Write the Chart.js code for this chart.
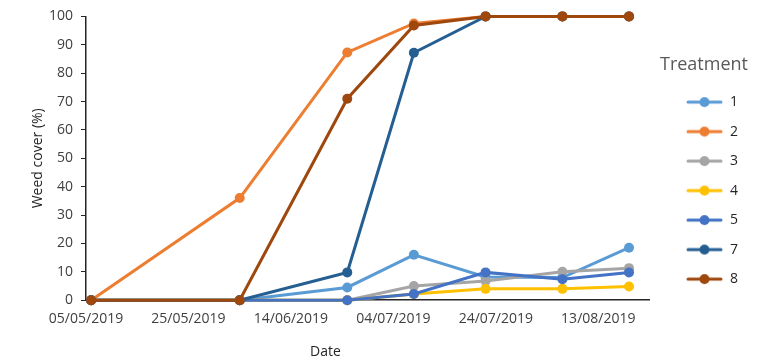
<!DOCTYPE html>
<html>
<head>
<meta charset="utf-8">
<script src="https://cdn.jsdelivr.net/npm/chart.js@4.4.1/dist/chart.umd.min.js"></script>
<style>
  html, body { margin: 0; padding: 0; background: #fff; }
  #wrap { width: 768px; height: 360px; }
</style>
</head>
<body>
<div id="wrap"><canvas id="chart"></canvas></div>
<script>
// sampling dates and weed cover (%) per treatment
const dates = ['06/05/2019', '04/06/2019', '25/06/2019', '08/07/2019', '22/07/2019', '06/08/2019', '19/08/2019']
const treatments = ['1', '2', '3', '4', '5', '7', '8']
const t1 = [0, 0, 4.5, 16, 8.2, 8, 18.5]
const t2 = [0, 36, 87.3, 97.5, 100, 100, 100]
const t3 = [0, 0, 0, 5, 6.8, 10, 11.3]
const t4 = [0, 0, 0, 2.2, 4, 4, 4.8]
const t5 = [0, 0, 0, 2.2, 9.8, 7.4, 9.8]
const t7 = [0, 0, 9.8, 87.2, 100, 100, 100]
const t8 = [0, 0, 71, 96.8, 100, 100, 100]
const colours = ['#5B9BD5', '#ED7D31', '#A5A5A5', '#FFC000', '#4472C4', '#255E91', '#9E480E']
const tickDates = ['05/05/2019', '25/05/2019', '14/06/2019', '04/07/2019', '24/07/2019', '13/08/2019']
const axisEnd = '23/08/2019'

const DAY = 864e5
const origin = Date.UTC(2019, 4, 5)
const pad = n => String(n).padStart(2, '0')
function toDay (s) {
  const [d, m, y] = s.split('/').map(Number)
  return Math.round((Date.UTC(y, m - 1, d) - origin) / DAY)
}
function fromDay (n) {
  const dt = new Date(origin + n * DAY)
  return pad(dt.getUTCDate()) + '/' + pad(dt.getUTCMonth() + 1) + '/' + dt.getUTCFullYear()
}

// line + marker swatch for the legend
function swatch (colour) {
  const c = document.createElement('canvas')
  c.width = 58
  c.height = 12
  const g = c.getContext('2d')
  g.strokeStyle = colour
  g.lineWidth = 3
  g.lineCap = 'round'
  g.beginPath()
  g.moveTo(23, 6)
  g.lineTo(56, 6)
  g.stroke()
  g.fillStyle = colour
  g.beginPath()
  g.arc(39.5, 6, 5, 0, Math.PI * 2)
  g.fill()
  return c
}

Chart.defaults.font.family = '"Open Sans", sans-serif'

const series = [t1, t2, t3, t4, t5, t7, t8]
const datasets = series.map((vals, i) => ({
  label: treatments[i],
  data: vals.map((v, j) => ({ x: toDay(dates[j]), y: v })),
  borderColor: colours[i],
  backgroundColor: colours[i],
  borderWidth: 3,
  pointRadius: 5,
  pointBorderWidth: 0,
  tension: 0,
  order: series.length - i,
  clip: false
}))
const swatches = colours.map(swatch)

const dateTitle = {
  id: 'dateTitle',
  afterDraw (chart) {
    const { ctx, chartArea } = chart
    ctx.save()
    ctx.font = '14px "Open Sans"'
    ctx.fillStyle = '#262626'
    ctx.textAlign = 'center'
    ctx.textBaseline = 'middle'
    ctx.fillText('Date', chartArea.left + 0.425 * (chartArea.right - chartArea.left), chartArea.bottom + 52)
    ctx.restore()
  }
}

new Chart(document.getElementById('chart'), {
  type: 'line',
  data: { datasets },
  plugins: [dateTitle],
  options: {
    responsive: true,
    maintainAspectRatio: false,
    animation: false,
    layout: { padding: { left: 31, top: 6, right: 20, bottom: 23 } },
    plugins: {
      tooltip: { enabled: false },
      legend: {
        position: 'right',
        align: 'start',
        title: {
          display: true,
          text: 'Treatment',
          position: 'end',
          color: '#595959',
          font: { size: 18 },
          padding: { top: 50, bottom: 2 }
        },
        labels: {
          usePointStyle: true,
          pointStyleWidth: 58,
          padding: 15.5,
          color: '#262626',
          font: { size: 14 },
          sort: (a, b) => a.datasetIndex - b.datasetIndex,
          generateLabels (chart) {
            const items = Chart.defaults.plugins.legend.labels.generateLabels(chart)
            items.forEach(it => { it.pointStyle = swatches[it.datasetIndex] })
            return items
          }
        }
      }
    },
    scales: {
      x: {
        type: 'linear',
        min: 0,
        max: toDay(axisEnd),
        afterBuildTicks (scale) {
          scale.ticks = tickDates.map(d => ({ value: toDay(d) }))
        },
        ticks: {
          callback: v => fromDay(v),
          autoSkip: false,
          maxRotation: 0,
          color: '#404040',
          font: { size: 14 },
          padding: 10
        },
        grid: { display: false, drawTicks: false },
        border: { color: '#262626', width: 1.5 }
      },
      y: {
        min: 0,
        max: 100,
        ticks: {
          stepSize: 10,
          color: '#404040',
          font: { size: 14 },
          padding: 8
        },
        grid: { drawOnChartArea: false, drawTicks: true, tickLength: 5, color: '#262626' },
        border: { color: '#262626', width: 1.5 },
        title: {
          display: true,
          text: 'Weed cover (%)',
          color: '#262626',
          font: { size: 14, lineHeight: 1 },
          padding: { top: 0, bottom: -4 }
        }
      }
    }
  }
})
</script>
</body>
</html>
